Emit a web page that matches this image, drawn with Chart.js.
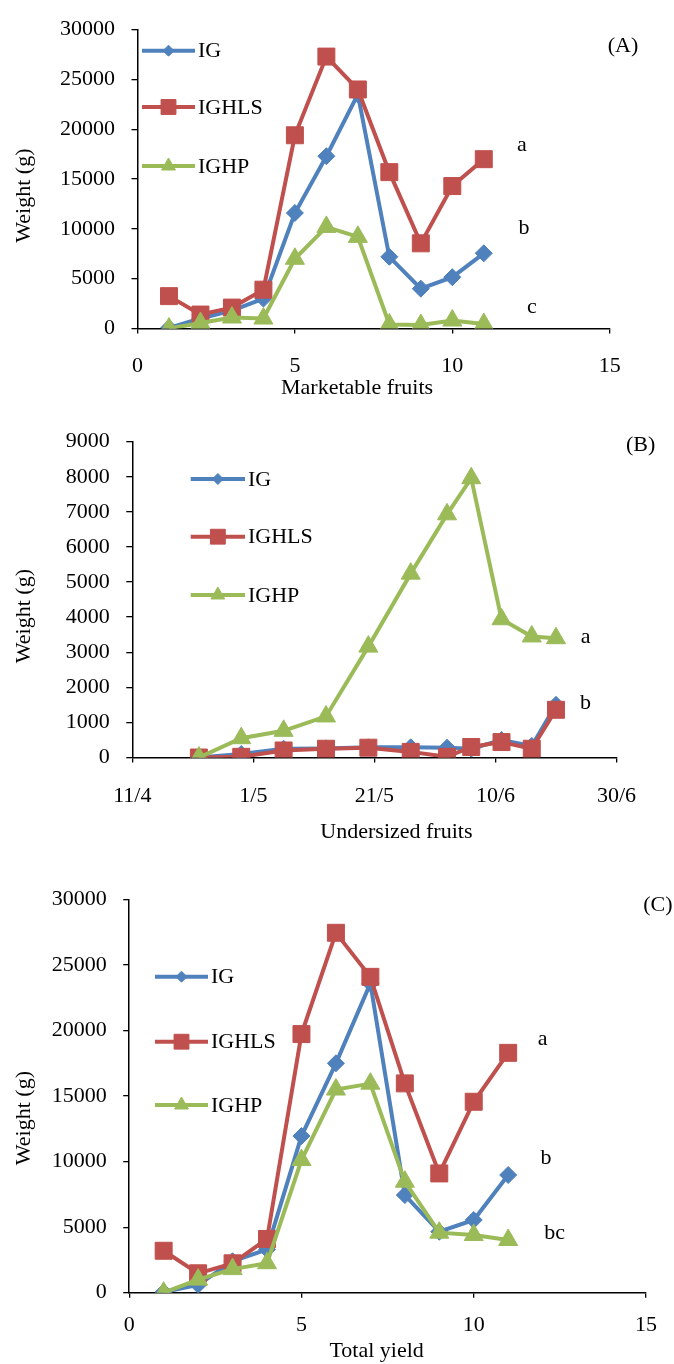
<!DOCTYPE html>
<html>
<head>
<meta charset="utf-8">
<title>Weight per harvest</title>
<script src="https://cdn.jsdelivr.net/npm/chart.js@4.4.1/dist/chart.umd.min.js"></script>
<style>
  html, body { margin: 0; padding: 0; background: #fff; }
  #page { position: relative; width: 674px; height: 1364px; overflow: hidden; }
  .panel { position: absolute; left: 0; width: 674px; }
  .panel canvas { display: block; }
</style>
</head>
<body>
<div id="page">
  <div class="panel" style="top:0;height:405px"><canvas id="chartA"></canvas></div>
  <div class="panel" style="top:412px;height:437px"><canvas id="chartB"></canvas></div>
  <div class="panel" style="top:852px;height:512px"><canvas id="chartC"></canvas></div>
</div>
<script>
// ---- data ----
const seriesNames = ['IG', 'IGHLS', 'IGHP'];
const seriesColors = ['#4F81BD', '#C0504D', '#9BBB59'];

// (A) marketable fruits, harvest number 1..11
const harvests = [1, 2, 3, 4, 5, 6, 7, 8, 9, 10, 11];
const marketIG    = [50, 1000, 1800, 3000, 11600, 17300, 23500, 7200, 4000, 5150, 7550];
const marketIGHLS = [3250, 1400, 2100, 3900, 19400, 27300, 24000, 15700, 8550, 14300, 17000];
const marketIGHP  = [0, 550, 1100, 1000, 7000, 10200, 9200, 400, 350, 800, 450];

// (B) undersized fruits, by harvest date (d/m)
const harvestDates    = ['22/4', '29/4', '6/5', '13/5', '20/5', '27/5', '2/6', '6/6', '11/6', '16/6', '20/6'];
const undersizedIG    = [0, 100, 250, 260, 290, 290, 280, 250, 500, 330, 1500];
const undersizedIGHLS = [0, 20, 200, 250, 280, 160, 20, 300, 440, 250, 1360];
const undersizedIGHP  = [0, 550, 760, 1170, 3160, 5240, 6930, 7960, 3940, 3450, 3400];
const dateTicks = ['11/4', '1/5', '21/5', '10/6', '30/6'];

// (C) total yield
const totalIG    = [50, 600, 2400, 3300, 11950, 17500, 23600, 7450, 4650, 5550, 8980];
const totalIGHLS = [3200, 1480, 2240, 4100, 19730, 27460, 24100, 15970, 9100, 14570, 18300];
const totalIGHP  = [0, 1000, 1800, 2250, 10120, 15500, 15950, 8470, 4580, 4400, 4020];

// ---- helpers ----
const MONTH_START = [0, 31, 59, 90, 120, 151, 181, 212, 243, 273, 304, 334];
function dayOfYear(dm) {
  const [d, m] = dm.split('/').map(Number);
  return MONTH_START[m - 1] + d;
}
function dayLabel(doy) {
  let m = 11;
  while (m > 0 && MONTH_START[m] >= doy) m--;
  return (doy - MONTH_START[m]) + '/' + (m + 1);
}

Chart.defaults.font.family = '"Liberation Serif", "Times New Roman", serif';
Chart.defaults.font.size = 22;
Chart.defaults.color = '#000';

const markerStyles = ['rectRot', 'rect', 'triangle'];
const markerRadius = [8.5, 12, 11];

function makeSets(xs, ig, ighls, ighp) {
  return [ig, ighls, ighp].map((ys, i) => ({
    label: seriesNames[i],
    data: ys.map((y, k) => ({ x: xs[k], y: y })),
    borderColor: seriesColors[i],
    backgroundColor: seriesColors[i],
    borderWidth: 4,
    pointStyle: markerStyles[i],
    pointRadius: markerRadius[i],
    pointBorderWidth: 1,
    tension: 0,
    order: 2 - i   // green on top, then red, then blue
  }));
}

// Excel style key: short line with the marker in the middle
const seriesKey = {
  id: 'seriesKey',
  afterDatasetsDraw(chart, args, opts) {
    const ctx = chart.ctx;
    const mid = (opts.x1 + opts.x2) / 2;
    const keyRadius = [5.5, 10.5, 8];
    ctx.save();
    chart.data.datasets.forEach((ds, i) => {
      const y = opts.rows[i];
      ctx.strokeStyle = ds.borderColor;
      ctx.lineWidth = 4;
      ctx.beginPath();
      ctx.moveTo(opts.x1, y);
      ctx.lineTo(opts.x2, y);
      ctx.stroke();
      ctx.fillStyle = ds.backgroundColor;
      ctx.lineWidth = 1;
      Chart.helpers.drawPoint(ctx, { pointStyle: ds.pointStyle, radius: keyRadius[i], borderWidth: 1, rotation: 0 }, mid, y);
      ctx.fillStyle = '#000';
      ctx.font = '22px "Liberation Serif", serif';
      ctx.textAlign = 'left';
      ctx.textBaseline = 'middle';
      ctx.fillText(ds.label, opts.x2 + 3, y + 1);
    });
    ctx.restore();
  }
};

// panel tag and significance letters
const panelNotes = {
  id: 'panelNotes',
  afterDraw(chart, args, opts) {
    const ctx = chart.ctx;
    ctx.save();
    ctx.fillStyle = '#000';
    ctx.font = '22px "Liberation Serif", serif';
    ctx.textAlign = 'center';
    ctx.textBaseline = 'middle';
    (opts.items || []).forEach(n => ctx.fillText(n.text, n.x, n.y));
    ctx.restore();
  }
};

const axisGrid = len => ({ drawOnChartArea: false, drawTicks: true, tickLength: len, color: '#000', lineWidth: 1.3 });
const axisBorder = { display: true, color: '#000', width: 1.5 };

function panelOptions(cfg) {
  return {
    responsive: true,
    maintainAspectRatio: false,
    animation: false,
    events: [],
    layout: { padding: { top: cfg.top, right: cfg.right, left: 0, bottom: 0 } },
    plugins: {
      legend: { display: false },
      tooltip: { enabled: false },
      seriesKey: cfg.key,
      panelNotes: { items: cfg.notes }
    },
    scales: {
      x: {
        type: 'linear',
        min: cfg.xMin, max: cfg.xMax,
        ticks: { stepSize: cfg.xStep, padding: cfg.xPad, autoSkip: false, maxRotation: 0, callback: cfg.xLabel || (v => String(v)) },
        grid: axisGrid(5),
        border: axisBorder,
        title: { display: true, text: cfg.xTitle, padding: { top: 0, bottom: cfg.xTitlePad } },
        afterFit: s => { s.height = cfg.xAxisHeight; }
      },
      y: {
        min: 0, max: cfg.yMax,
        ticks: { stepSize: cfg.yStep, padding: 16.5, autoSkip: false, callback: v => String(v) },
        grid: axisGrid(6),
        border: axisBorder,
        // trailing en spaces nudge the title down like in the original figure
        title: { display: true, text: 'Weight (g)' + cfg.yNudge, padding: { top: 11, bottom: 0 } },
        afterFit: s => { s.width = cfg.yAxisWidth; }
      }
    }
  };
}

new Chart(document.getElementById('chartA'), {
  type: 'line',
  data: { datasets: makeSets(harvests, marketIG, marketIGHLS, marketIGHP) },
  options: panelOptions({
    top: 19.3, right: 64.3, yAxisWidth: 137.5, xAxisHeight: 76.5,
    xMin: 0, xMax: 15, xStep: 5, xPad: 20, xTitlePad: 3.8,
    xTitle: 'Marketable fruits\u2002\u2002\u2002',
    yMax: 30000, yStep: 5000, yNudge: '\u2002\u2002\u2002',
    key: { x1: 142, x2: 195, rows: [50.7, 107, 166] },
    notes: [
      { text: '(A)', x: 623, y: 46.7 },
      { text: 'a', x: 522, y: 145 },
      { text: 'b', x: 524, y: 228 },
      { text: 'c', x: 532, y: 307 }
    ]
  }),
  plugins: [seriesKey, panelNotes]
});

new Chart(document.getElementById('chartB'), {
  type: 'line',
  data: { datasets: makeSets(harvestDates.map(dayOfYear), undersizedIG, undersizedIGHLS, undersizedIGHP) },
  options: panelOptions({
    top: 20, right: 57.5, yAxisWidth: 132.3, xAxisHeight: 91.5,
    xMin: dayOfYear(dateTicks[0]), xMax: dayOfYear(dateTicks[dateTicks.length - 1]),
    xStep: dayOfYear(dateTicks[1]) - dayOfYear(dateTicks[0]),
    xLabel: v => dayLabel(v),
    xPad: 21, xTitlePad: 3.8,
    xTitle: '\u2002\u2002\u2002\u2002Undersized fruits',
    yMax: 9000, yStep: 1000, yNudge: '\u2002\u2002\u2002',
    key: { x1: 190.7, x2: 245, rows: [67, 124.7, 183] },
    notes: [
      { text: '(B)', x: 640.6, y: 33 },
      { text: 'a', x: 585.6, y: 225 },
      { text: 'b', x: 585.6, y: 291 }
    ]
  }),
  plugins: [seriesKey, panelNotes]
});

new Chart(document.getElementById('chartC'), {
  type: 'line',
  data: { datasets: makeSets(harvests, totalIG, totalIGHLS, totalIGHP) },
  options: panelOptions({
    top: 47.5, right: 28, yAxisWidth: 129.2, xAxisHeight: 71.3,
    xMin: 0, xMax: 15, xStep: 5, xPad: 14, xTitlePad: 0,
    xTitle: 'Total yield\u2002\u2002',
    yMax: 30000, yStep: 5000, yNudge: '\u2002\u2002\u2002\u2002',
    key: { x1: 155, x2: 208, rows: [124.7, 189.7, 253] },
    notes: [
      { text: '(C)', x: 657.8, y: 53 },
      { text: 'a', x: 542.6, y: 187 },
      { text: 'b', x: 546, y: 306 },
      { text: 'bc', x: 554.6, y: 381 }
    ]
  }),
  plugins: [seriesKey, panelNotes]
});
</script>
</body>
</html>
